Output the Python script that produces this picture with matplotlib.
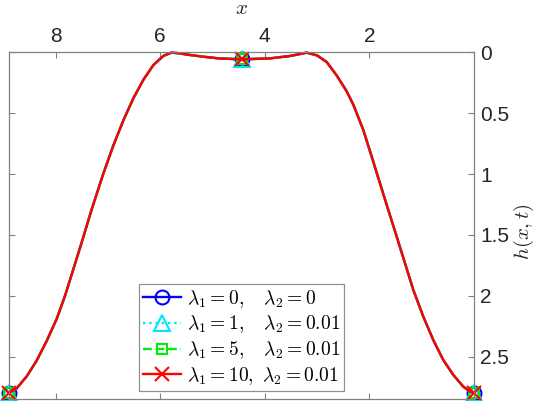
import numpy as np
import matplotlib
matplotlib.use("Agg")
import matplotlib.pyplot as plt

plt.rcParams['mathtext.fontset'] = 'cm'
plt.rcParams['font.family'] = ['Liberation Sans', 'DejaVu Sans']

# film profile (x ascending, h(x,t))
x_vals = [0.000, 0.073, 0.201, 0.392, 0.584, 0.775, 0.966, 1.157, 1.316, 1.475,
          1.636, 1.795, 1.953, 2.114, 2.305, 2.432, 2.623, 2.814, 3.000, 3.197,
          3.510, 3.900, 4.443, 4.880, 5.200, 5.500, 5.650, 5.790, 5.940, 6.130,
          6.320, 6.510, 6.700, 6.900, 7.090, 7.310, 7.500, 7.660, 7.820, 7.980,
          8.170, 8.360, 8.550, 8.745, 8.886]
h_vals = [2.798, 2.787, 2.746, 2.650, 2.527, 2.363, 2.171, 1.952, 1.733, 1.514,
          1.295, 1.076, 0.857, 0.638, 0.430, 0.320, 0.190, 0.080, 0.025, 0.003,
          0.030, 0.050, 0.058, 0.050, 0.035, 0.018, 0.007, 0.003, 0.030, 0.105,
          0.225, 0.375, 0.555, 0.770, 1.000, 1.290, 1.560, 1.780, 2.000, 2.190,
          2.370, 2.530, 2.660, 2.760, 2.798]

# the four cases coincide in the reference
h_lam0 = h_vals
h_lam1 = h_vals
h_lam5 = h_vals
h_lam10 = h_vals

labels = [r'$\lambda_1 = 0,\quad \lambda_2 = 0$',
          r'$\lambda_1 = 1,\quad \lambda_2 = 0.01$',
          r'$\lambda_1 = 5,\quad \lambda_2 = 0.01$',
          r'$\lambda_1 = 10,\ \lambda_2 = 0.01$']
xticks = [8, 6, 4, 2]
yticks = [0, 0.5, 1, 1.5, 2, 2.5]
yticklabels = ['0', '0.5', '1', '1.5', '2', '2.5']

x = np.array(x_vals)
mid = int(np.argmin(np.abs(x - x[-1] / 2)))
marks = [0, mid, len(x) - 1]

fig = plt.figure(figsize=(5.38, 4.01), dpi=100)
ax = fig.add_axes([9.3 / 538, 1.7 / 401, 464.5 / 538, 347 / 401])

styles = [dict(color='#0000ff', ls='-', marker='o', ms=10),
          dict(color='#00e5ff', ls=':', marker='^', ms=11),
          dict(color='#00ee00', ls='--', marker='s', ms=7),
          dict(color='#ff0000', ls='-', marker='x', ms=10)]
for h, lab, st in zip([h_lam0, h_lam1, h_lam5, h_lam10], labels, styles):
    ax.plot(x, h, color=st['color'], ls=st['ls'], lw=1.7, marker=st['marker'],
            ms=st['ms'], mfc='none', mec=st['color'], mew=1.5,
            markevery=marks, label=lab, clip_on=False)

ax.set_xlim(8.886, 0)
ax.set_ylim(2.85, 0)
ax.set_xticks(xticks)
ax.set_xticklabels([str(t) for t in xticks])
ax.set_yticks(yticks)
ax.set_yticklabels(yticklabels)

for s in ax.spines.values():
    s.set_color('#808080')
    s.set_linewidth(0.9)

ax.tick_params(direction='in', length=4, width=0.8, color='#808080',
               top=True, bottom=True, left=True, right=True,
               labeltop=True, labelbottom=False, labelleft=False, labelright=True,
               labelsize=15, labelcolor='#262626', pad=4.5)

ax.xaxis.set_label_position('top')
ax.set_xlabel(r'$x$', fontsize=15, color='#262626')
ax.xaxis.set_label_coords(0.5, 1.127)
ax.xaxis.label.set_va('center')

ax.yaxis.set_label_position('right')
ax.set_ylabel(r'$h(x,t)$', fontsize=15, color='#262626', rotation=90)
ax.yaxis.set_label_coords(1.108, 0.483)
ax.yaxis.label.set_va('center')
ax.yaxis.label.set_ha('center')

leg = ax.legend(loc='lower center', bbox_to_anchor=(0.5, 0.024), borderaxespad=0,
                fontsize=14, handlelength=2.0, handletextpad=0.3,
                labelspacing=0.2, borderpad=0.2, fancybox=False,
                framealpha=1, edgecolor='#909090')
leg.get_frame().set_linewidth(0.9)

fig.savefig('out.png', dpi=100)
